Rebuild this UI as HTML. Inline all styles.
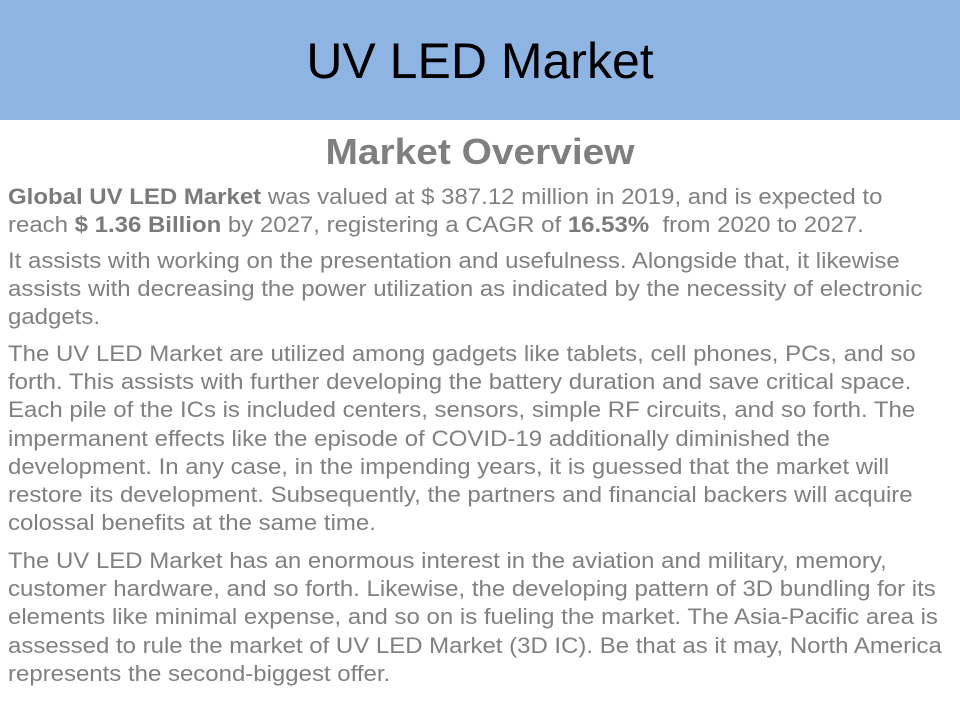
<!DOCTYPE html>
<html><head><meta charset="utf-8"><style>
body{margin:0;width:960px;height:720px;background:#fff;position:relative;overflow:hidden;font-family:"Liberation Sans",Arial,sans-serif;}
#hdr{position:absolute;left:0;top:0;width:960px;height:120px;background:#8EB4E3;}
#title{position:absolute;left:0;top:28px;width:960px;text-align:center;font-size:50px;line-height:66px;color:#000;}
#sub{position:absolute;left:0;top:130px;width:960px;text-align:center;font-size:36px;font-weight:bold;line-height:44px;color:#7f7f7f;transform:scaleX(1.08);}
.p{position:absolute;left:8px;font-size:22px;line-height:28.2px;color:#808080;white-space:nowrap;transform-origin:0 0;transform:scaleX(1.09);}
.p b{color:#7a7a7a;}
</style></head><body>
<div id="hdr"></div>
<div id="title">UV LED Market</div>
<div id="sub">Market Overview</div>
<div class="p" style="top:183px"><b>Global UV LED Market</b> was valued at $ 387.12 million in 2019, and is expected to<br>reach <b>$ 1.36 Billion</b> by 2027, registering a CAGR of <b>16.53%</b>&nbsp; from 2020 to 2027.</div>
<div class="p" style="top:247px">It assists with working on the presentation and usefulness. Alongside that, it likewise<br>assists with decreasing the power utilization as indicated by the necessity of electronic<br>gadgets.</div>
<div class="p" style="top:340px">The UV LED Market are utilized among gadgets like tablets, cell phones, PCs, and so<br>forth. This assists with further developing the battery duration and save critical space.<br>Each pile of the ICs is included centers, sensors, simple RF circuits, and so forth. The<br>impermanent effects like the episode of COVID-19 additionally diminished the<br>development. In any case, in the impending years, it is guessed that the market will<br>restore its development. Subsequently, the partners and financial backers will acquire<br>colossal benefits at the same time.</div>
<div class="p" style="top:547px">The UV LED Market has an enormous interest in the aviation and military, memory,<br>customer hardware, and so forth. Likewise, the developing pattern of 3D bundling for its<br>elements like minimal expense, and so on is fueling the market. The Asia-Pacific area is<br>assessed to rule the market of UV LED Market (3D IC). Be that as it may, North America<br>represents the second-biggest offer.</div>
</body></html>
